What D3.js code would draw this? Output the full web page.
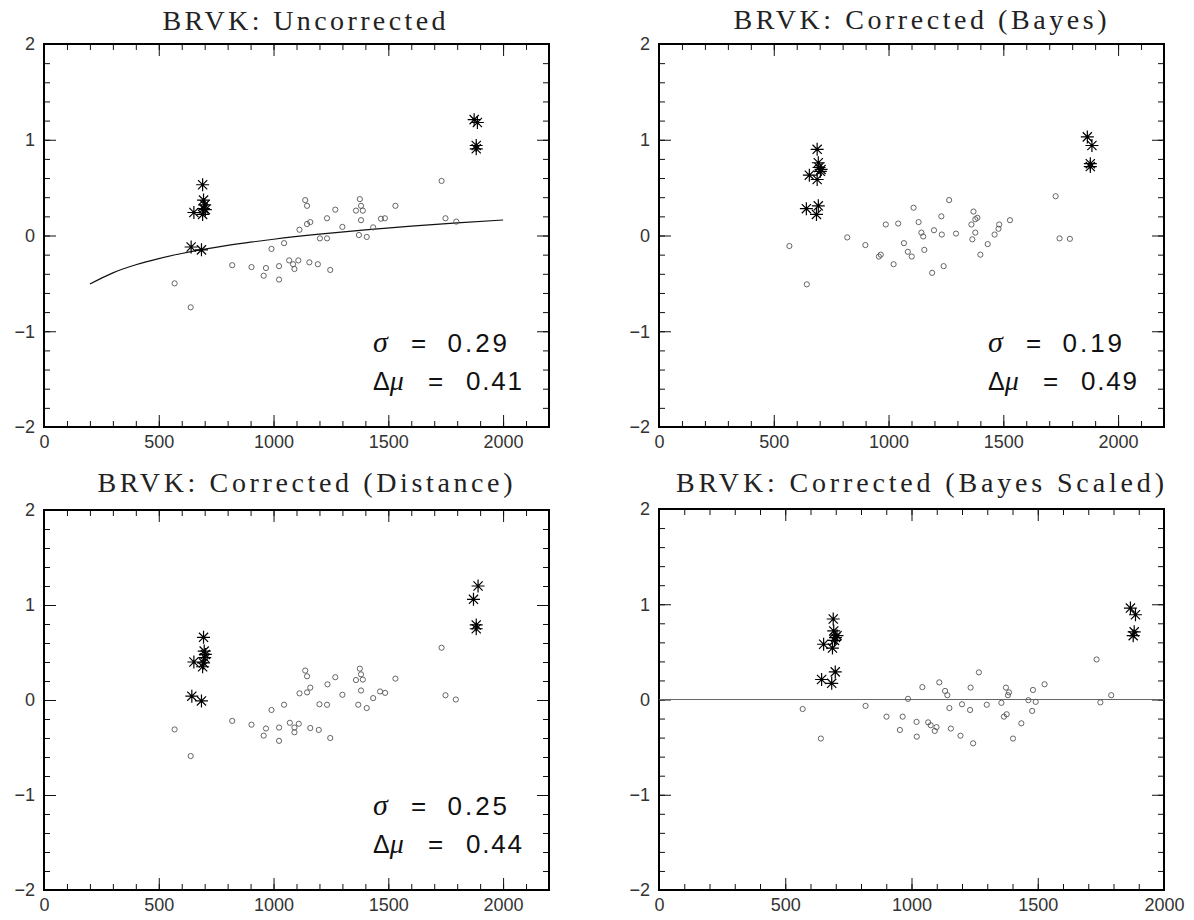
<!DOCTYPE html>
<html><head><meta charset="utf-8">
<script src="https://cdn.jsdelivr.net/npm/d3@7"></script>
<style>body{margin:0;background:#fff}</style>
</head><body>
<svg id="c" width="1194" height="920"></svg>
<script>
// ---------------- DATA ----------------
const titles = ["BRVK: Uncorrected", "BRVK: Corrected (Bayes)", "BRVK: Corrected (Distance)", "BRVK: Corrected (Bayes Scaled)"];
const xTickValues = [0, 500, 1000, 1500, 2000];
const yTickValues = [-2, -1, 0, 1, 2];
const sigmaLabels = ["0.29", "0.19", "0.25", null];
const dmuLabels = ["0.41", "0.49", "0.44", null];

// Panel 1: Uncorrected
const p1CircX = [569,639,820,904,967,957,991,1024,1024,1046,1068,1085,1091,1108,1113,1138,1146,1146,1160,1156,1193,1202,1233,1233,1247,1269,1300,1359,1376,1381,1389,1381,1372,1406,1434,1468,1485,1531,1732,1749,1796];
const p1CircY = [-0.50,-0.75,-0.31,-0.33,-0.34,-0.42,-0.14,-0.32,-0.46,-0.08,-0.26,-0.30,-0.35,-0.26,0.06,0.37,0.31,0.12,0.14,-0.28,-0.30,-0.03,-0.03,0.18,-0.36,0.27,0.09,0.26,0.38,0.31,0.26,0.16,0.005,-0.015,0.085,0.175,0.18,0.31,0.57,0.18,0.145];
const p1StarX = [653,641,686,691,695,700,695,691,703,1874,1888,1883,1883];
const p1StarY = [0.24,-0.12,-0.15,0.53,0.37,0.32,0.28,0.22,0.27,1.21,1.18,0.94,0.905];
const p1CurveX = [200,300,400,500,600,700,800,900,1000,1200,1400,1600,1800,2000];
const p1CurveY = [-0.507,-0.39,-0.306,-0.241,-0.188,-0.143,-0.104,-0.07,-0.039,0.014,0.058,0.097,0.132,0.162];

// Panel 2: Corrected (Bayes)
const p2CircX = [568,644,820,899,958,966,988,1022,1042,1067,1084,1101,1109,1131,1143,1151,1156,1190,1198,1230,1232,1240,1264,1294,1361,1365,1370,1378,1387,1378,1400,1432,1462,1479,1482,1529,1728,1745,1790];
const p2CircY = [-0.11,-0.51,-0.02,-0.10,-0.22,-0.20,0.115,-0.30,0.125,-0.08,-0.17,-0.22,0.29,0.14,0.03,-0.01,-0.15,-0.39,0.055,0.20,0.01,-0.32,0.37,0.02,0.115,-0.04,0.25,0.17,0.185,0.03,-0.20,-0.09,0.01,0.07,0.115,0.16,0.41,-0.03,-0.035];
const p2StarX = [655,642,686,689,694,697,703,689,694,706,1866,1886,1879,1879];
const p2StarY = [0.63,0.28,0.22,0.90,0.76,0.71,0.67,0.585,0.31,0.69,1.03,0.94,0.75,0.72];

// Panel 3: Corrected (Distance)
const p3CircX = [569,639,820,904,967,957,991,1024,1024,1046,1071,1091,1091,1110,1113,1138,1146,1146,1160,1160,1197,1200,1233,1235,1247,1269,1300,1359,1376,1381,1389,1381,1369,1406,1434,1464,1486,1531,1732,1749,1794];
const p3CircY = [-0.31,-0.59,-0.22,-0.26,-0.30,-0.375,-0.105,-0.29,-0.43,-0.05,-0.24,-0.29,-0.34,-0.25,0.07,0.31,0.25,0.08,0.13,-0.295,-0.315,-0.045,-0.05,0.165,-0.40,0.24,0.055,0.21,0.33,0.27,0.215,0.10,-0.05,-0.085,0.02,0.09,0.075,0.225,0.55,0.05,0.005];
const p3StarX = [653,644,686,695,698,700,703,691,695,1871,1891,1883,1883];
const p3StarY = [0.40,0.04,-0.01,0.66,0.515,0.445,0.48,0.35,0.39,1.06,1.20,0.79,0.75];

// Panel 4: Corrected (Bayes Scaled)
const p4CircX = [569,641,818,901,954,965,986,1020,1021,1043,1066,1076,1092,1099,1110,1133,1142,1150,1156,1194,1200,1232,1234,1244,1267,1298,1356,1366,1377,1374,1386,1382,1402,1435,1463,1478,1481,1492,1527,1733,1748,1791];
const p4CircY = [-0.10,-0.41,-0.067,-0.18,-0.32,-0.18,0.007,-0.235,-0.39,0.13,-0.24,-0.27,-0.33,-0.29,0.18,0.09,0.045,-0.09,-0.305,-0.38,-0.05,-0.11,0.125,-0.46,0.285,-0.055,-0.035,-0.18,-0.155,0.125,0.075,0.045,-0.41,-0.25,-0.007,-0.12,0.10,-0.025,0.16,0.42,-0.03,0.045];
const p4StarX = [652,644,684,690,698,692,699,705,687,695,1867,1887,1882,1878];
const p4StarY = [0.58,0.21,0.17,0.845,0.29,0.72,0.65,0.67,0.54,0.62,0.96,0.89,0.71,0.67];
const p4RefLineY = [0];

// ---------------- LAYOUT ----------------
const layout = [
  {x0:44, x1:549, y0:44, y1:427, xMax:2200, titleX:304, titleW:283, titleY:30},
  {x0:659, x1:1164, y0:44, y1:427, xMax:2200, titleX:920, titleW:373, titleY:29},
  {x0:44, x1:549, y0:510, y1:890, xMax:2200, titleX:305, titleW:415, titleY:492},
  {x0:659, x1:1164, y0:509, y1:890, xMax:2000, titleX:920, titleW:488, titleY:492}
];
const panelData = [
  {cx:p1CircX, cy:p1CircY, sx:p1StarX, sy:p1StarY, curveX:p1CurveX, curveY:p1CurveY},
  {cx:p2CircX, cy:p2CircY, sx:p2StarX, sy:p2StarY},
  {cx:p3CircX, cy:p3CircY, sx:p3StarX, sy:p3StarY},
  {cx:p4CircX, cy:p4CircY, sx:p4StarX, sy:p4StarY, refY:p4RefLineY}
];

const svg = d3.select("#c");
const tickFont = "'Liberation Sans', Arial, sans-serif";

function starPath(s){
  const d = s*0.7071;
  return `M${-s},0H${s}M0,${-s}V${s}M${-d},${-d}L${d},${d}M${-d},${d}L${d},${-d}`;
}

layout.forEach((L, i) => {
  const D = panelData[i];
  const x = d3.scaleLinear().domain([0, L.xMax]).range([L.x0, L.x1]);
  const y = d3.scaleLinear().domain([-2, 2]).range([L.y1, L.y0]);
  const g = svg.append("g");

  // title
  g.append("text").attr("x", L.titleX).attr("y", L.titleY)
    .attr("text-anchor", "middle")
    .attr("textLength", L.titleW).attr("lengthAdjust", "spacing")
    .style("font-family", "'Liberation Serif', 'Times New Roman', serif")
    .style("font-size", "28px").attr("fill", "#222")
    .text(titles[i]);

  const minorX = d3.range(0, L.xMax + 1, 100);
  const minorY = d3.range(-2, 2.001, 0.2).map(v => +v.toFixed(2));

  const styleAxis = sel => {
    sel.select(".domain").remove();
    sel.selectAll(".tick line").attr("stroke", "#111").attr("stroke-width", 1);
    sel.selectAll("text").style("font-family", tickFont).style("font-size", "18px").attr("fill", "#333");
  };

  // bottom axis
  g.append("g").attr("transform", `translate(0,${L.y1})`)
    .call(d3.axisBottom(x).tickValues(minorX).tickSize(-6).tickFormat("")).call(styleAxis);
  g.append("g").attr("transform", `translate(0,${L.y1})`)
    .call(d3.axisBottom(x).tickValues(xTickValues).tickSize(-12).tickPadding(8).tickFormat(d3.format("d"))).call(styleAxis);
  // top axis
  g.append("g").attr("transform", `translate(0,${L.y0})`)
    .call(d3.axisTop(x).tickValues(minorX).tickSize(-6).tickFormat("")).call(styleAxis);
  g.append("g").attr("transform", `translate(0,${L.y0})`)
    .call(d3.axisTop(x).tickValues(xTickValues).tickSize(-12).tickFormat("")).call(styleAxis);
  // left axis
  g.append("g").attr("transform", `translate(${L.x0},0)`)
    .call(d3.axisLeft(y).tickValues(minorY).tickSize(-6).tickFormat("")).call(styleAxis);
  g.append("g").attr("transform", `translate(${L.x0},0)`)
    .call(d3.axisLeft(y).tickValues(yTickValues).tickSize(-12).tickPadding(9).tickFormat(d3.format("d"))).call(styleAxis);
  // right axis
  g.append("g").attr("transform", `translate(${L.x1},0)`)
    .call(d3.axisRight(y).tickValues(minorY).tickSize(-6).tickFormat("")).call(styleAxis);
  g.append("g").attr("transform", `translate(${L.x1},0)`)
    .call(d3.axisRight(y).tickValues(yTickValues).tickSize(-12).tickFormat("")).call(styleAxis);

  // frame
  g.append("rect").attr("x", L.x0).attr("y", L.y0)
    .attr("width", L.x1 - L.x0).attr("height", L.y1 - L.y0)
    .attr("fill", "none").attr("stroke", "#000").attr("stroke-width", 2);

  // reference line
  if (D.refY) {
    g.selectAll("line.ref").data(D.refY).join("line").attr("class", "ref")
      .attr("x1", L.x0).attr("x2", L.x1).attr("y1", d => y(d)).attr("y2", d => y(d))
      .attr("stroke", "#666").attr("stroke-width", 1);
  }
  // curve
  if (D.curveX) {
    const pts = D.curveX.map((v, k) => [v, D.curveY[k]]);
    g.append("path").datum(pts)
      .attr("d", d3.line().x(d => x(d[0])).y(d => y(d[1])).curve(d3.curveMonotoneX))
      .attr("fill", "none").attr("stroke", "#111").attr("stroke-width", 1.2);
  }
  // circles
  g.selectAll("circle.pt").data(D.cx.map((v, k) => [v, D.cy[k]])).join("circle")
    .attr("class", "pt").attr("cx", d => x(d[0])).attr("cy", d => y(d[1])).attr("r", 2.6)
    .attr("fill", "none").attr("stroke", "#555").attr("stroke-width", 0.9);
  // stars
  g.selectAll("path.star").data(D.sx.map((v, k) => [v, D.sy[k]])).join("path")
    .attr("class", "star").attr("transform", d => `translate(${x(d[0])},${y(d[1])})`)
    .attr("d", starPath(6.5)).attr("fill", "none").attr("stroke", "#000").attr("stroke-width", 1.2);

  // annotations
  if (sigmaLabels[i]) {
    const b1 = L.y1 - 75, b2 = L.y1 - 37;
    const sx = L.x0 + 329;
    const serif = "'Liberation Serif', 'Times New Roman', serif";
    const sans = "'Liberation Sans', Arial, sans-serif";
    g.append("text").attr("x", sx).attr("y", b1).style("font-family", serif).style("font-style", "italic")
      .style("font-size", "30px").attr("fill", "#111").text("σ");
    g.append("text").attr("x", L.x0 + 374.5).attr("y", b1).attr("text-anchor", "middle")
      .style("font-family", sans).style("font-size", "26px").attr("fill", "#111").text("=");
    g.append("text").attr("x", L.x0 + 403.6).attr("y", b1).attr("textLength", 59.4).attr("lengthAdjust", "spacing")
      .style("font-family", sans).style("font-size", "26px").attr("fill", "#111").text(sigmaLabels[i]);
    const t = g.append("text").attr("x", sx).attr("y", b2).style("font-family", serif)
      .style("font-size", "28px").attr("fill", "#111");
    t.append("tspan").text("Δ").style("font-family", sans).style("font-size", "25px");
    t.append("tspan").text("μ").style("font-style", "italic");
    g.append("text").attr("x", L.x0 + 391.5).attr("y", b2).attr("text-anchor", "middle")
      .style("font-family", sans).style("font-size", "26px").attr("fill", "#111").text("=");
    g.append("text").attr("x", L.x0 + 422).attr("y", b2).attr("textLength", 56).attr("lengthAdjust", "spacing")
      .style("font-family", sans).style("font-size", "26px").attr("fill", "#111").text(dmuLabels[i]);
  }
});
</script>
</body></html>
